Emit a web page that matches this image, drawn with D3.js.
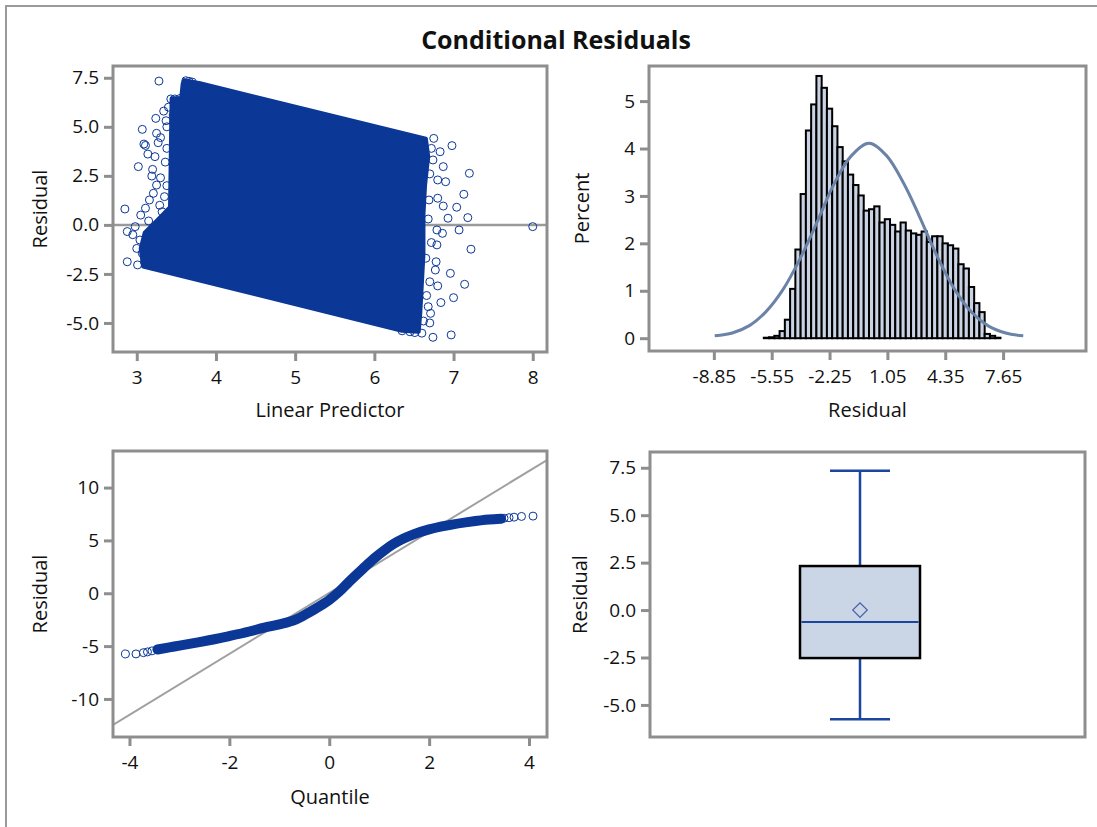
<!DOCTYPE html>
<html lang="en">
<head>
<meta charset="UTF-8">
<title>Conditional Residuals</title>
<script src="https://cdn.jsdelivr.net/npm/d3@7"></script>
<style>
	html, body { margin: 0; background: #fff; }
	svg text { font-family: 'Open Sans', 'Noto Sans', sans-serif; fill: #111; }
</style>
</head>
<body>
<svg id="chart" width="1097" height="827"></svg>
<script>
// ---- values ----

// panel 1: residual vs linear predictor
// outline of the solid part of the cloud (predictor, residual)
const cloudOutline = [[3.60, 7.38], [3.80, 7.22], [6.65, 4.40], [6.68, 3.5], [6.64, 2.0], [6.62, 0.5],
	[6.62, -1.5], [6.60, -3.0], [6.58, -4.5], [6.56, -5.45], [6.35, -5.40], [3.08, -2.12], [3.05, -1.2],
	[3.10, -0.4], [3.25, 0.2], [3.42, 0.9], [3.44, 6.45], [3.56, 6.45], [3.58, 7.2]];
// loose points around the edges of the cloud
const cloudPoints = [
	[3.28, 7.33], [2.85, 0.81], [2.88, -0.34], [2.88, -1.88], [3.02, 2.97], [3.07, 4.87], [3.09, 4.12],
	[3.11, 4.05], [3.14, 3.61], [3.24, 5.43], [3.37, 5.31], [3.25, 4.67], [3.27, 4.19], [3.23, 3.48],
	[3.20, 2.83], [3.19, 2.49], [3.25, 2.03], [3.21, 1.61], [3.16, 1.27], [3.11, 0.85], [3.05, 0.50],
	[2.98, -0.09], [3.04, -0.77], [3.01, -2.04], [3.07, -1.45], [3.32, 0.67], [3.35, 1.44], [3.43, 6.42],
	[3.40, 6.0], [3.46, 5.6], [3.30, 4.45], [3.00, -1.2], [2.95, -0.5], [3.10, -1.9], [3.20, -2.1],
	[3.33, -0.2], [3.62, 7.35], [3.66, 7.32], [3.70, 7.28], [3.55, 6.45], [3.48, 6.42], [3.38, 3.9],
	[3.36, 3.2], [3.30, 2.4], [3.38, 2.0], [3.29, 1.0], [3.15, 0.2], [3.38, 5.0], [3.34, 5.8],
	[6.98, 4.04], [7.20, 2.63], [7.13, 1.56], [7.04, 0.90], [7.18, 0.37], [7.07, -0.26], [7.22, -1.24],
	[6.96, -2.47], [7.14, -3.03], [7.00, -3.71], [6.97, -5.61], [6.74, -5.73], [6.84, -3.96], [6.93, 0.34],
	[6.87, 0.96], [6.83, 3.73], [6.87, 2.97], [6.90, 2.20], [6.80, 2.29], [6.79, -0.26], [6.86, -0.43],
	[6.79, -1.02], [6.78, -1.88], [6.77, -2.30], [6.80, -3.11], [6.68, -4.17], [6.71, -4.51], [6.80, 1.36],
	[6.69, 1.27], [6.65, -1.70], [6.60, -5.52], [6.51, -5.49], [8.00, -0.09], [6.74, 3.31], [6.75, 4.41],
	[6.72, 3.9], [6.70, 2.6], [6.68, 0.3], [6.72, -0.9], [6.70, -2.9], [6.66, -3.6], [6.62, -4.9],
	[6.45, -5.45], [6.35, -5.4], [6.70, -5.0]];
const predTicks = [3, 4, 5, 6, 7, 8];
const residTicks = [-5, -2.5, 0, 2.5, 5, 7.5];

// panel 2: histogram of residuals (bin midpoints, percent) and the normal curve
const binWidth = 0.3;
const binMids = [-5.85, -5.55, -5.25, -4.95, -4.65, -4.35, -4.05, -3.75, -3.45, -3.15, -2.85, -2.55,
	-2.25, -1.95, -1.65, -1.35, -1.05, -0.75, -0.45, -0.15, 0.15, 0.45, 0.75, 1.05, 1.35, 1.65, 1.95,
	2.25, 2.55, 2.85, 3.15, 3.45, 3.75, 4.05, 4.35, 4.65, 4.95, 5.25, 5.55, 5.85, 6.15, 6.45, 6.75,
	7.05, 7.35];
const binPercent = [0.01, 0.02, 0.05, 0.15, 0.39, 1.04, 1.87, 3.04, 4.38, 4.93, 5.53, 5.28, 4.84, 4.47,
	4.03, 3.73, 3.45, 3.23, 3.01, 2.69, 2.72, 2.78, 2.44, 2.51, 2.39, 2.25, 2.44, 2.27, 2.21, 2.18,
	2.25, 2.03, 2.15, 2.15, 2.00, 1.96, 1.89, 1.56, 1.47, 1.08, 0.74, 0.55, 0.09, 0.05, 0.01];
const curveX = [-8.8, -7.8, -6.8, -5.9, -4.9, -3.9, -2.9, -2.0, -1.0, 0, 1.0, 2.0, 2.9, 3.9, 4.9, 5.9, 6.8, 7.8, 8.8];
const curvePercent = [0.05, 0.11, 0.27, 0.55, 1.03, 1.70, 2.50, 3.25, 3.85, 4.11, 3.85, 3.25, 2.55, 1.72,
	1.02, 0.53, 0.26, 0.11, 0.05];
const histTicks = [-8.85, -5.55, -2.25, 1.05, 4.35, 7.65];
const percentTicks = [0, 1, 2, 3, 4, 5];

// panel 3: normal quantile plot
const qqQuantile = [-4.08, -3.87, -3.72, -3.64, -3.55, -3.44, -3.2, -3.0, -2.6, -2.3, -2.0, -1.6, -1.3,
	-1.0, -0.674, -0.4, -0.2, 0.0, 0.2, 0.4, 0.674, 0.9, 1.1, 1.3, 1.5, 1.7, 2.0, 2.4, 2.8, 3.2, 3.44,
	3.5, 3.6, 3.7, 3.85, 4.08];
const qqResidual = [-5.74, -5.74, -5.62, -5.55, -5.45, -5.32, -5.12, -4.95, -4.62, -4.35, -4.05, -3.62,
	-3.25, -2.95, -2.5, -1.8, -1.25, -0.63, 0.15, 1.1, 2.32, 3.3, 4.05, 4.7, 5.2, 5.6, 6.05, 6.45, 6.75,
	6.98, 7.05, 7.1, 7.15, 7.2, 7.27, 7.30];
const qqRefLine = [[-4.33, -12.46], [4.36, 12.61]];
const quantTicks = [-4, -2, 0, 2, 4];
const qqResidTicks = [-10, -5, 0, 5, 10];

// panel 4: box plot
const boxCategory = ['Residual'];
const boxWhiskers = [-5.75, 7.34];
const boxQuartiles = [-2.53, -0.63, 2.32];
const boxMean = [0.0];

// ---- drawing ----
const frameColor = '#8e8e8e';
const markColor = '#0b3797';
const svg = d3.select('#chart');
// plain hyphen for negative numbers, like the original
const locale = d3.formatLocale({ decimal: '.', thousands: ',', grouping: [3], currency: ['', ''], minus: '-' });

// outer border of the panel (only left and top edges show)
svg.append('rect').attr('x', 6).attr('y', 6).attr('width', 1200).attr('height', 900)
	.attr('fill', 'none').attr('stroke', '#9a9a9a').attr('stroke-width', 2);

svg.append('text').attr('x', 556).attr('y', 40).attr('dy', '0.35em').attr('text-anchor', 'middle')
	.attr('font-size', 25).attr('font-weight', 700).text('Conditional Residuals');

const panels = {
	scatter: { x0: 113, x1: 547, y0: 66, y1: 352 },
	hist: { x0: 649, x1: 1086, y0: 66, y1: 351 },
	qq: { x0: 113, x1: 547, y0: 451, y1: 737 },
	box: { x0: 650, x1: 1085, y0: 452, y1: 737 },
};

function panelGroup(name, p) {
	svg.append('clipPath').attr('id', 'clip-' + name)
		.append('rect').attr('x', p.x0).attr('y', p.y0).attr('width', p.x1 - p.x0).attr('height', p.y1 - p.y0);
	return svg.append('g').attr('clip-path', `url(#clip-${name})`);
}

function styleAxis(g) {
	g.attr('font-family', null).attr('font-size', null);
	g.select('.domain').remove();
	g.selectAll('.tick line').attr('stroke', frameColor).attr('stroke-width', 3);
	g.selectAll('.tick text').attr('font-size', 19).attr('fill', '#111');
}

function drawFrame(p) {
	svg.append('rect').attr('x', p.x0).attr('y', p.y0).attr('width', p.x1 - p.x0).attr('height', p.y1 - p.y0)
		.attr('fill', 'none').attr('stroke', frameColor).attr('stroke-width', 3);
}

function yAxis(p, scale, ticks, fmt) {
	svg.append('g').attr('transform', `translate(${p.x0},0)`)
		.call(d3.axisLeft(scale).tickValues(ticks).tickFormat(locale.format(fmt)).tickSize(9).tickPadding(5))
		.call(styleAxis);
}

function xAxis(p, scale, ticks, fmt) {
	svg.append('g').attr('transform', `translate(0,${p.y1})`)
		.call(d3.axisBottom(scale).tickValues(ticks).tickFormat(locale.format(fmt)).tickSize(9).tickPadding(10))
		.call(styleAxis);
}

function yLabel(x, p, label) {
	svg.append('text').attr('transform', `translate(${x},${(p.y0 + p.y1) / 2}) rotate(-90)`)
		.attr('text-anchor', 'middle').attr('dy', '0.35em').attr('font-size', 20).text(label);
}

function xLabel(y, p, label) {
	svg.append('text').attr('x', (p.x0 + p.x1) / 2).attr('y', y)
		.attr('text-anchor', 'middle').attr('dy', '0.35em').attr('font-size', 20).text(label);
}

// --- residual vs linear predictor ---
{
	const p = panels.scatter;
	const x = d3.scaleLinear().domain([2.70, 8.18]).range([p.x0, p.x1]);
	const y = d3.scaleLinear().domain([-6.48, 8.1]).range([p.y1, p.y0]);
	const g = panelGroup('scatter', p);
	g.append('line').attr('x1', p.x0).attr('x2', p.x1).attr('y1', y(0)).attr('y2', y(0))
		.attr('stroke', '#9a9a9a').attr('stroke-width', 2.5);
	g.append('path').datum(cloudOutline)
		.attr('d', d3.line().x(d => x(d[0])).y(d => y(d[1])).curve(d3.curveLinearClosed))
		.attr('fill', markColor).attr('stroke', markColor).attr('stroke-width', 4).attr('stroke-linejoin', 'round');
	g.selectAll('circle').data(cloudPoints).join('circle')
		.attr('cx', d => x(d[0])).attr('cy', d => y(d[1])).attr('r', 4)
		.attr('fill', 'none').attr('stroke', markColor).attr('stroke-width', 1);
	xAxis(p, x, predTicks, 'd');
	yAxis(p, y, residTicks, '.1f');
	drawFrame(p);
	yLabel(40, p, 'Residual');
	xLabel(410, p, 'Linear Predictor');
}

// --- histogram ---
{
	const p = panels.hist;
	const x = d3.scaleLinear().domain([-12.55, 12.38]).range([p.x0, p.x1]);
	const y = d3.scaleLinear().domain([-0.27, 5.74]).range([p.y1, p.y0]);
	const g = panelGroup('hist', p);
	g.selectAll('rect').data(binMids).join('rect')
		.attr('x', d => x(d - binWidth / 2)).attr('width', x(binWidth) - x(0))
		.attr('y', (d, i) => y(binPercent[i])).attr('height', (d, i) => y(0) - y(binPercent[i]))
		.attr('fill', '#c9d3e4').attr('stroke', '#000').attr('stroke-width', 2);
	g.append('path').datum(curveX.map((v, i) => [v, curvePercent[i]]))
		.attr('d', d3.line().x(d => x(d[0])).y(d => y(d[1])).curve(d3.curveCatmullRom))
		.attr('fill', 'none').attr('stroke', '#6b83a6').attr('stroke-width', 3);
	xAxis(p, x, histTicks, '.2f');
	yAxis(p, y, percentTicks, 'd');
	drawFrame(p);
	yLabel(582, p, 'Percent');
	xLabel(410, p, 'Residual');
}

// --- Q-Q plot ---
{
	const p = panels.qq;
	const x = d3.scaleLinear().domain([-4.33, 4.36]).range([p.x0, p.x1]);
	const y = d3.scaleLinear().domain([-13.6, 13.46]).range([p.y1, p.y0]);
	const g = panelGroup('qq', p);
	g.append('line').attr('x1', x(qqRefLine[0][0])).attr('y1', y(qqRefLine[0][1]))
		.attr('x2', x(qqRefLine[1][0])).attr('y2', y(qqRefLine[1][1]))
		.attr('stroke', '#a0a0a0').attr('stroke-width', 2);
	const pts = qqQuantile.map((q, i) => [q, qqResidual[i]]);
	const band = pts.filter(d => Math.abs(d[0]) <= 3.44);
	g.append('path').datum(band)
		.attr('d', d3.line().x(d => x(d[0])).y(d => y(d[1])).curve(d3.curveMonotoneX))
		.attr('fill', 'none').attr('stroke', markColor).attr('stroke-width', 10).attr('stroke-linecap', 'round');
	g.selectAll('circle').data(pts).join('circle')
		.attr('cx', d => x(d[0])).attr('cy', d => y(d[1])).attr('r', 4)
		.attr('fill', 'none').attr('stroke', markColor).attr('stroke-width', 1);
	xAxis(p, x, quantTicks, 'd');
	yAxis(p, y, qqResidTicks, 'd');
	drawFrame(p);
	yLabel(40, p, 'Residual');
	xLabel(797, p, 'Quantile');
}

// --- box plot ---
{
	const p = panels.box;
	const x = d3.scaleBand().domain(boxCategory).range([p.x0, p.x1 - 15]).paddingInner(0).paddingOuter(1.25);
	const y = d3.scaleLinear().domain([-6.69, 8.33]).range([p.y1, p.y0]);
	const g = panelGroup('box', p);
	const whisker = '#1b46a0';
	boxCategory.forEach(c => {
		const cx = x(c) + x.bandwidth() / 2;
		const bw = x.bandwidth();
		// whiskers and caps
		[[boxWhiskers[0], boxQuartiles[0]], [boxQuartiles[2], boxWhiskers[1]]].forEach(([a, b]) => {
			g.append('line').attr('x1', cx).attr('x2', cx).attr('y1', y(a)).attr('y2', y(b))
				.attr('stroke', whisker).attr('stroke-width', 2.5);
		});
		boxWhiskers.forEach(v => {
			g.append('line').attr('x1', cx - bw / 4).attr('x2', cx + bw / 4).attr('y1', y(v)).attr('y2', y(v))
				.attr('stroke', whisker).attr('stroke-width', 2.5);
		});
		g.append('rect').attr('x', x(c)).attr('width', bw)
			.attr('y', y(boxQuartiles[2])).attr('height', y(boxQuartiles[0]) - y(boxQuartiles[2]))
			.attr('fill', '#cad5e5').attr('stroke', '#000').attr('stroke-width', 2.5);
		g.append('line').attr('x1', x(c) + 1.5).attr('x2', x(c) + bw - 1.5)
			.attr('y1', y(boxQuartiles[1])).attr('y2', y(boxQuartiles[1]))
			.attr('stroke', whisker).attr('stroke-width', 2);
		g.selectAll('path.mean').data(boxMean).join('path').attr('class', 'mean')
			.attr('d', d3.symbol(d3.symbolSquare, 105))
			.attr('transform', d => `translate(${cx},${y(d)}) rotate(45)`)
			.attr('fill', 'none').attr('stroke', '#4a5fae').attr('stroke-width', 1.2);
	});
	yAxis(p, y, residTicks, '.1f');
	drawFrame(p);
	yLabel(580, p, 'Residual');
}
</script>
</body>
</html>
